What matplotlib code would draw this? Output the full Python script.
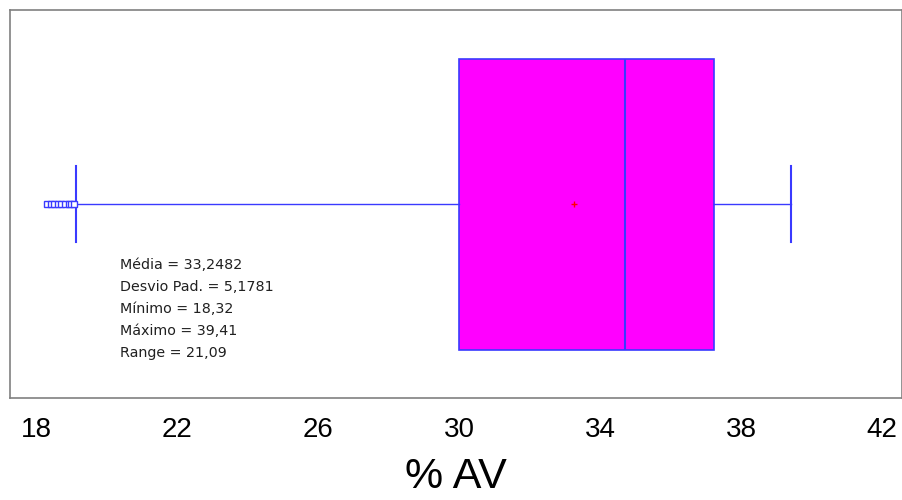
import matplotlib
matplotlib.use("Agg")
import matplotlib.pyplot as plt

# statistics of % AV
q1 = 30.0
median = 34.71
q3 = 37.23
whisker_low = 19.13
whisker_high = 39.41
mean = 33.2482
outliers = [18.32, 18.42, 18.52, 18.62, 18.72, 18.82, 18.92, 19.0, 19.07]

stats_text = [
    "Média = 33,2482",
    "Desvio Pad. = 5,1781",
    "Mínimo = 18,32",
    "Máximo = 39,41",
    "Range = 21,09",
]
xticks = [18, 22, 26, 30, 34, 38, 42]

fig = plt.figure(figsize=(9.02, 5.0), dpi=100)
ax = fig.add_axes([10 / 902, 102 / 500, 892 / 902, 388 / 500])

stats = [{
    "q1": q1, "med": median, "q3": q3,
    "whislo": whisker_low, "whishi": whisker_high,
    "mean": mean, "fliers": outliers,
}]
ax.bxp(stats, positions=[0.5], widths=0.75, vert=False, patch_artist=True,
       showmeans=True, capwidths=[0.196],
       boxprops=dict(facecolor="#ff00ff", edgecolor="#3a3aff", linewidth=1.2),
       medianprops=dict(color="#3a3aff", linewidth=1.5),
       whiskerprops=dict(color="#3a3aff", linewidth=1.0),
       capprops=dict(color="#3a3aff", linewidth=1.5),
       meanprops=dict(marker="+", markeredgecolor="red", markersize=5, markeredgewidth=1),
       flierprops=dict(marker="s", markerfacecolor="white", markeredgecolor="#3a3aff",
                       markersize=4, markeredgewidth=1))

ax.set_ylim(0, 1)
ax.set_xlim(17.26, 17.26 + 892 / 35.25)
ax.set_yticks([])
ax.set_xticks(xticks)
ax.set_xticklabels([str(t) for t in xticks], fontsize=20, family="Liberation Sans")
ax.tick_params(axis="x", length=0, pad=14)
for s in ax.spines.values():
    s.set_color("#808080")
    s.set_linewidth(1.2)

ax.set_xlabel("% AV", fontsize=31, family="Liberation Sans", va="center")
ax.xaxis.set_label_coords(0.5, (398 - 477) / 388)

for i, line in enumerate(stats_text):
    ax.text(20.38, 0.343 - i * 0.057, line, fontsize=10.3, family="DejaVu Sans",
            va="center", ha="left", color="#202020")

fig.savefig("out.png", dpi=100)
